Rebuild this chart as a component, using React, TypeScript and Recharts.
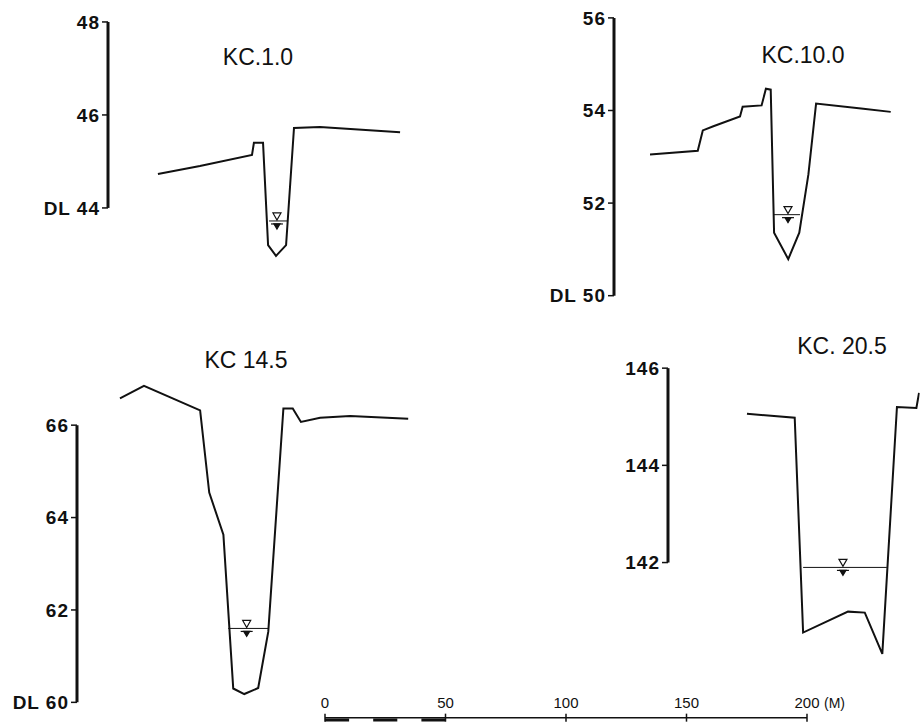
import React from 'react';
import { LineChart, Line, XAxis, YAxis, ReferenceLine, ReferenceDot } from 'recharts';

// distance from the left gauge (m) and bed elevation (m) for each section
const kc1Dist = [20.8, 38.3, 60.0, 60.8, 64.6, 66.7, 70.0, 74.2, 77.5, 88.3, 121.7];
const kc1Elev = [44.73, 44.9, 45.14, 45.4, 45.4, 43.2, 42.97, 43.2, 45.72, 45.74, 45.63];
const kc1Ticks = [44, 46, 48];
const kc1Water = 43.72;
const kc1WaterSpan = [67.1, 74.6];

const kc10Dist = [15.0, 34.9, 37.0, 41.4, 52.5, 53.6, 61.5, 63.3, 65.3, 66.7, 72.6, 77.2, 81.0, 84.2, 103.9, 115.3];
const kc10Elev = [53.05, 53.13, 53.57, 53.66, 53.87, 54.08, 54.11, 54.47, 54.45, 51.36, 50.79, 51.36, 52.62, 54.15, 54.04, 53.97];
const kc10Ticks = [50, 52, 54, 56];
const kc10Water = 51.75;
const kc10WaterSpan = [66.4, 77.5];

const kc145Dist = [17.9, 27.9, 51.3, 55.1, 61.0, 65.1, 69.7, 75.5, 79.7, 86.0, 89.9, 93.3, 101.3, 113.8, 138.0];
const kc145Elev = [66.58, 66.85, 66.32, 64.54, 63.63, 60.3, 60.18, 60.31, 61.53, 66.36, 66.36, 66.07, 66.16, 66.2, 66.14];
const kc145Ticks = [60, 62, 64, 66];
const kc145Water = 61.6;
const kc145WaterSpan = [63.0, 79.7];

const kc205Dist = [32.9, 52.8, 56.3, 75.0, 82.0, 89.3, 95.4, 103.5, 104.6];
const kc205Elev = [145.06, 144.98, 140.56, 140.99, 140.97, 140.12, 145.2, 145.18, 145.49];
const kc205Ticks = [142, 144, 146];
const kc205Water = 141.9;
const kc205WaterSpan = [56.3, 91.2];

// horizontal scale (m); the first 50 m is split into 10 m blocks
const scaleTicks = [0, 50, 100, 150, 200];
const scaleBlockSpan = [0, 50];

const PX_PER_M = 2.4;
const YAXIS_W = 80;
const INK = '#111';
const FONT = '"Liberation Sans", Arial, sans-serif';

type SectionProps = {
  title: string;
  dist: number[];
  elev: number[];
  ticks: number[];
  datum: boolean;
  water: number;
  waterSpan: number[];
  waterMark: number;
  axisX: number;
  tickTopY: number;
  pxPerUnit: number;
  lo: number;
  hi: number;
  right: number;
  titleX: number;
  titleY: number;
};

// water surface symbol: open triangle over the line, short bar and a solid triangle below
function WaterMark(props: any) {
  const { cx, cy } = props;
  if (cx == null || cy == null) return null;
  return (
    <g stroke={INK} fill="none" strokeWidth={1.2}>
      <polygon points={`${cx - 4},${cy - 8} ${cx + 4},${cy - 8} ${cx},${cy - 1}`} />
      <line x1={cx - 6} y1={cy + 3} x2={cx + 6} y2={cy + 3} />
      <polygon points={`${cx - 3},${cy + 3} ${cx + 3},${cy + 3} ${cx},${cy + 8}`} fill={INK} />
    </g>
  );
}

function Section(p: SectionProps) {
  const topTick = p.ticks[p.ticks.length - 1];
  const top = p.tickTopY - (p.hi - topTick) * p.pxPerUnit;
  const height = (p.hi - p.lo) * p.pxPerUnit;
  const plotW = p.right - p.axisX;
  const width = YAXIS_W + plotW;
  const profile = p.dist.map((d, i) => ({ d, z: p.elev[i] }));
  const surface = p.waterSpan.map((d) => ({ d, z: p.water }));

  return (
    <>
      <div
        style={{
          position: 'absolute',
          left: p.axisX - YAXIS_W,
          top,
          width,
          height,
        }}
      >
        <LineChart width={width} height={height} margin={{ top: 0, right: 0, bottom: 0, left: 0 }}>
          <XAxis type="number" dataKey="d" domain={[0, plotW / PX_PER_M]} hide allowDataOverflow />
          <YAxis
            type="number"
            domain={[p.lo, p.hi]}
            ticks={p.ticks}
            allowDataOverflow
            width={YAXIS_W}
            axisLine={false}
            tickLine={{ stroke: INK, strokeWidth: 1.5 }}
            tickSize={6}
            tickMargin={2}
            interval={0}
            tick={{ fill: INK, fontSize: 19, fontFamily: FONT, fontWeight: 700, letterSpacing: 1 }}
            tickFormatter={(v: number) => (p.datum && v === p.ticks[0] ? `DL ${v}` : String(v))}
          />
          <ReferenceLine
            segment={[
              { x: 0, y: p.ticks[0] },
              { x: 0, y: topTick },
            ]}
            stroke={INK}
            strokeWidth={3}
          />
          <Line
            data={profile}
            dataKey="z"
            type="linear"
            stroke={INK}
            strokeWidth={2}
            dot={false}
            isAnimationActive={false}
          />
          <Line
            data={surface}
            dataKey="z"
            type="linear"
            stroke={INK}
            strokeWidth={1}
            dot={false}
            isAnimationActive={false}
          />
          <ReferenceDot x={p.waterMark} y={p.water} r={0} shape={WaterMark} />
        </LineChart>
      </div>
      <div
        style={{
          position: 'absolute',
          left: p.titleX,
          top: p.titleY,
          transform: 'translate(-50%, -50%)',
          fontFamily: FONT,
          fontSize: 23,
          color: INK,
          whiteSpace: 'nowrap',
        }}
      >
        {p.title}
      </div>
    </>
  );
}

function ScaleTick(props: any) {
  const { x, y, payload } = props;
  const last = payload.value === scaleTicks[scaleTicks.length - 1];
  return (
    <g>
      <text x={x} y={y + 6} textAnchor="middle" fontSize={15} fontFamily={FONT} fill={INK}>
        {payload.value}
      </text>
      {last && (
        <text x={x + 17} y={y + 6} textAnchor="start" fontSize={14} fontFamily={FONT} fill={INK}>
          (M)
        </text>
      )}
    </g>
  );
}

function ScaleBarTick(props: any) {
  const { cx, cy } = props;
  if (cx == null || cy == null) return null;
  return <line x1={cx} y1={cy - 4} x2={cx} y2={cy + 4} stroke={INK} strokeWidth={1.5} />;
}

function ScaleBar() {
  const w = 482;
  const rows = scaleTicks.map((d) => ({ d, y: 0 }));
  const blocks = scaleBlockSpan.map((d) => ({ d, y: -0.3 }));
  const pxPer10 = (w / 200) * 10;
  return (
    <div style={{ position: 'absolute', left: 325 - 10, top: 688, width: w + 80, height: 35 }}>
      <LineChart width={w + 80} height={35} data={rows} margin={{ top: 0, right: 70, bottom: 0, left: 10 }}>
        <XAxis
          type="number"
          dataKey="d"
          domain={[0, 200]}
          ticks={scaleTicks}
          orientation="top"
          height={22}
          axisLine={false}
          tickLine={false}
          interval={0}
          tick={<ScaleTick />}
        />
        <YAxis type="number" domain={[-0.7, 1]} hide />
        <Line
          dataKey="y"
          type="linear"
          stroke={INK}
          strokeWidth={1.5}
          dot={<ScaleBarTick />}
          isAnimationActive={false}
        />
        <Line
          data={blocks}
          dataKey="y"
          type="linear"
          stroke={INK}
          strokeWidth={3}
          strokeDasharray={`${pxPer10} ${pxPer10}`}
          dot={false}
          isAnimationActive={false}
        />
      </LineChart>
    </div>
  );
}

export default function App() {
  return (
    <div
      style={{
        position: 'absolute',
        left: 0,
        top: 0,
        width: 920,
        height: 723,
        background: '#fff',
        overflow: 'hidden',
      }}
    >
      <Section
        title="KC.1.0"
        dist={kc1Dist}
        elev={kc1Elev}
        ticks={kc1Ticks}
        datum
        water={kc1Water}
        waterSpan={kc1WaterSpan}
        waterMark={70.4}
        axisX={108}
        tickTopY={22}
        pxPerUnit={46.5}
        lo={42.7}
        hi={48.3}
        right={420}
        titleX={258}
        titleY={57}
      />
      <Section
        title="KC.10.0"
        dist={kc10Dist}
        elev={kc10Elev}
        ticks={kc10Ticks}
        datum
        water={kc10Water}
        waterSpan={kc10WaterSpan}
        waterMark={72.5}
        axisX={614}
        tickTopY={18.3}
        pxPerUnit={46.3}
        lo={49.6}
        hi={56.3}
        right={910}
        titleX={803}
        titleY={55}
      />
      <Section
        title="KC 14.5"
        dist={kc145Dist}
        elev={kc145Elev}
        ticks={kc145Ticks}
        datum
        water={kc145Water}
        waterSpan={kc145WaterSpan}
        waterMark={70.7}
        axisX={77}
        tickTopY={425}
        pxPerUnit={46.2}
        lo={59.62}
        hi={67.8}
        right={420}
        titleX={246}
        titleY={360}
      />
      <Section
        title="KC. 20.5"
        dist={kc205Dist}
        elev={kc205Elev}
        ticks={kc205Ticks}
        datum={false}
        water={kc205Water}
        waterSpan={kc205WaterSpan}
        waterMark={72.9}
        axisX={668.3}
        tickTopY={368.3}
        pxPerUnit={48.6}
        lo={139.8}
        hi={146.6}
        right={920}
        titleX={842}
        titleY={346}
      />
      <ScaleBar />
    </div>
  );
}
